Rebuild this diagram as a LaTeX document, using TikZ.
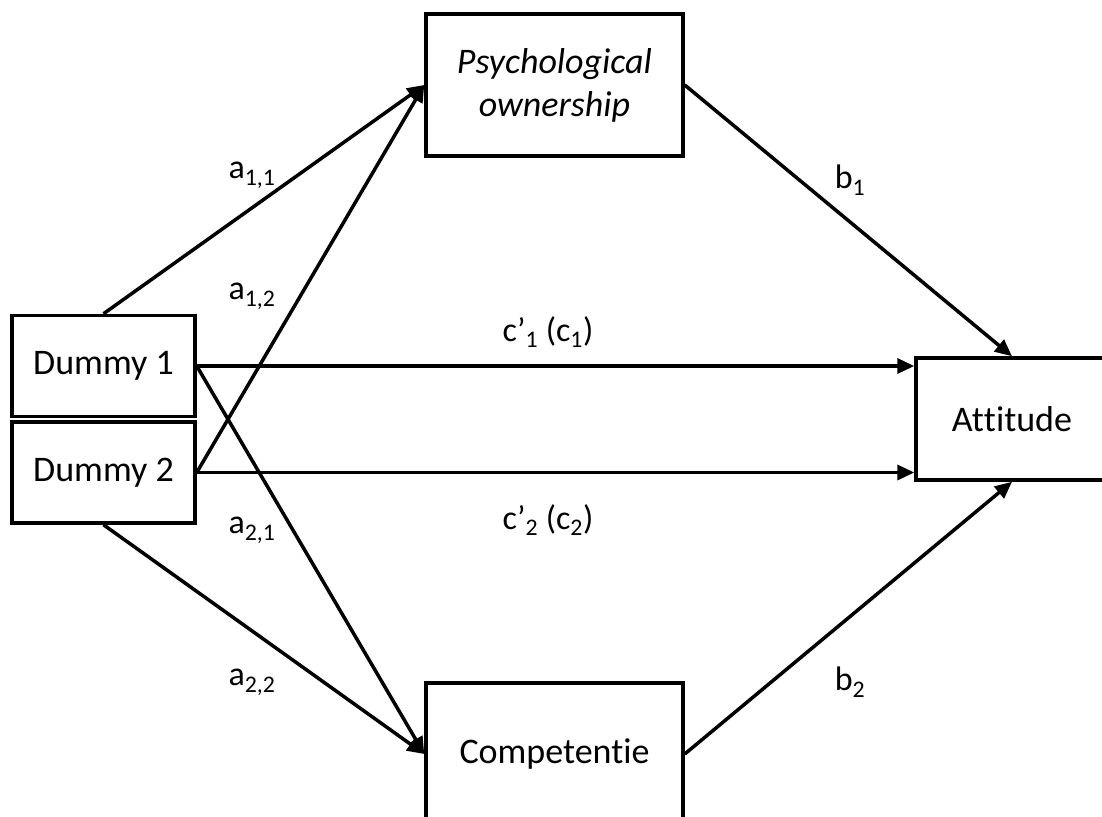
\documentclass[tikz,border=0pt]{standalone}
\usepackage{fontspec}
\setmainfont{Carlito}[Ligatures={NoCommon,NoRequired,NoContextual}]
\usetikzlibrary{arrows.meta}
\begin{document}
\begin{tikzpicture}[x=1pt,y=-1pt,
  box/.style={draw,line width=3.5pt,rectangle,inner sep=0pt,font=\fontsize{36}{43}\selectfont,align=center},
  lab/.style={font=\fontsize{34}{40}\selectfont,inner sep=0pt},
  arr/.style={line width=3.5pt,-{Triangle[length=17pt,width=15pt]}}]
\useasboundingbox (0,0) rectangle (1102,816);
\fill[white] (0,0) rectangle (1102,816);
\node[box,minimum width=183pt,minimum height=101pt] (D1) at (103.5,366) {Dummy 1};
\node[box,minimum width=183pt,minimum height=101pt] (D2) at (103.5,472.5) {Dummy 2};
\node[box,minimum width=257pt,minimum height=142pt] (PO) at (554.5,85) {\itshape Psychological\\\itshape ownership};
\node[box,minimum width=257pt,minimum height=142pt] (CO) at (554.5,754) {Competent\kern0pt ie};
\node[box,minimum width=192pt,minimum height=122pt] (AT) at (1012,419) {At\kern0pt t\kern0pt itude};
\draw[arr] (D1.north) -- (PO.west);
\draw[arr] (D2.east) -- (PO.west);
\draw[arr] (D1.east) -- (D1.east -| AT.west);
\draw[arr] (D2.east) -- (D2.east -| AT.west);
\draw[arr] (D1.east) -- (CO.west);
\draw[arr] (D2.south) -- (CO.west);
\draw[arr] (PO.east) -- (AT.north);
\draw[arr] (CO.east) -- (AT.south);
\node[lab] (l11) at (252,175) {a\textsubscript{1,1}};
\node[lab] (l12) at (252,296) {a\textsubscript{1,2}};
\node[lab] (l21) at (252,530) {a\textsubscript{2,1}};
\node[lab] (l22) at (252,682) {a\textsubscript{2,2}};
\node[lab] (c1) at (548,332) {c’\textsubscript{1} (c\textsubscript{1})};
\node[lab] (c2) at (548,520) {c’\textsubscript{2} (c\textsubscript{2})};
\node[lab] (b1) at (850,180) {b\textsubscript{1}};
\node[lab] (b2) at (850,682) {b\textsubscript{2}};
\end{tikzpicture}
\end{document}
